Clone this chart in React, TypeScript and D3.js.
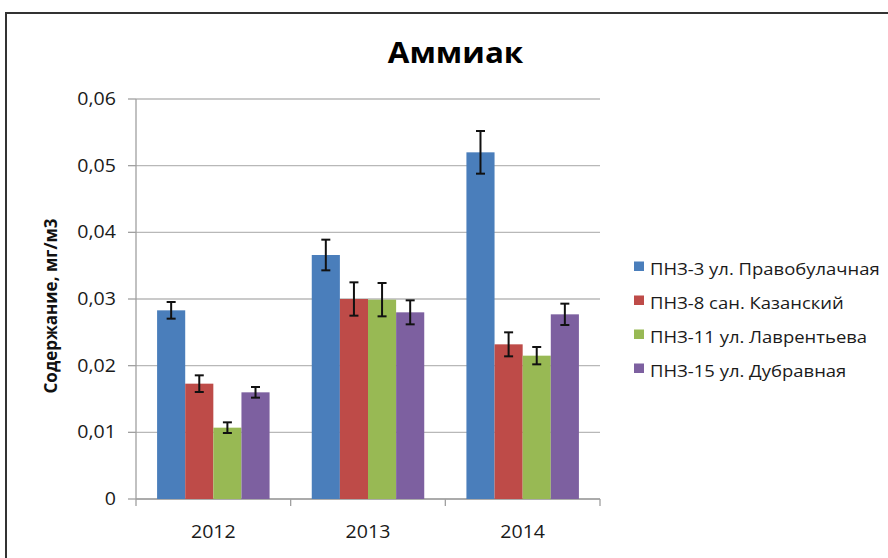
import React from "react";
import * as d3 from "d3";

const categories = ["2012", "2013", "2014"];
const seriesNames = [
  "ПНЗ-3 ул. Правобулачная",
  "ПНЗ-8 сан. Казанский",
  "ПНЗ-11 ул. Лаврентьева",
  "ПНЗ-15 ул. Дубравная",
];
const seriesColors = ["#4a7ebb", "#be4b48", "#98b954", "#7d60a0"];
// values per series, per year
const values = [
  [0.0283, 0.0366, 0.052],
  [0.0173, 0.03, 0.0232],
  [0.0107, 0.0299, 0.0215],
  [0.016, 0.028, 0.0277],
];
const errors = [
  [0.00125, 0.0023, 0.0032],
  [0.00125, 0.0025, 0.0018],
  [0.0008, 0.0025, 0.0013],
  [0.0008, 0.0018, 0.0016],
];
const yTicks = [0, 0.01, 0.02, 0.03, 0.04, 0.05, 0.06];
const title = "Аммиак";
const yTitle = "Содержание, мг/м3";

const W = 888;
const H = 558;
const font = "'Open Sans', 'Noto Sans', sans-serif";
const SX = 1.12;

function T(props: {
  x: number;
  y: number;
  size: number;
  anchor?: string;
  bold?: boolean;
  fill?: string;
  children: React.ReactNode;
}) {
  return (
    <text
      transform={`translate(${props.x},${props.y}) scale(${SX},1)`}
      textAnchor={props.anchor || "start"}
      fontFamily={font}
      fontWeight={props.bold ? "bold" : "normal"}
      fontSize={props.size}
      fill={props.fill || "#1a1a1a"}
    >
      {props.children}
    </text>
  );
}

export default function App() {
  const left = 136, right = 600, top = 99, bottom = 499;
  const x = d3.scaleBand<string>().domain(categories).range([left, right]);
  const bw = x.bandwidth() / 5.5;
  const pad = (x.bandwidth() - bw * 4) / 2;
  const y = d3.scaleLinear().domain([0, 0.06]).range([bottom, top]);
  const fmt = (v: number) => (v === 0 ? "0" : d3.format(".2f")(v).replace(".", ","));
  const boundaries = [left, ...categories.map((c) => (x(c) as number) + x.bandwidth())];
  return (
    <svg width={W} height={H} style={{ position: "absolute", left: 0, top: 0, background: "#fff" }}>
      <rect x={0} y={0} width={W} height={H} fill="#fff" />
      <rect x={6} y={13} width={W + 20} height={H + 20} fill="none" stroke="#333" strokeWidth={2} />
      <T x={455.5} y={63} size={28} anchor="middle" bold fill="#000">
        {title}
      </T>
      {yTicks.map((t) => (
        <g key={t}>
          <line x1={left} x2={right} y1={y(t)} y2={y(t)} stroke="#b8b8b8" strokeWidth={1.3} />
          <line x1={128} x2={left} y1={y(t)} y2={y(t)} stroke="#a0a0a0" strokeWidth={1.3} />
          <T x={116} y={y(t) + 6} size={17.5} anchor="end">
            {fmt(t)}
          </T>
        </g>
      ))}
      <line x1={left} x2={left} y1={top} y2={bottom} stroke="#a0a0a0" strokeWidth={1.3} />
      <line x1={left} x2={right} y1={bottom} y2={bottom} stroke="#a0a0a0" strokeWidth={1.3} />
      {boundaries.map((b, i) => (
        <line key={i} x1={b} x2={b} y1={bottom} y2={bottom + 7} stroke="#a0a0a0" strokeWidth={1.3} />
      ))}
      {categories.map((c) => (
        <T key={c} x={(x(c) as number) + x.bandwidth() / 2} y={538} size={17.5} anchor="middle">
          {c}
        </T>
      ))}
      {values.map((s, si) =>
        s.map((v, ci) => {
          const x0 = (x(categories[ci]) as number) + pad + si * bw;
          const cx = x0 + bw / 2;
          const e = errors[si][ci];
          return (
            <g key={si + "-" + ci}>
              <rect x={x0} y={y(v)} width={bw} height={bottom - y(v)} fill={seriesColors[si]} />
              <line x1={cx} x2={cx} y1={y(v + e)} y2={y(v - e)} stroke="#111" strokeWidth={2} />
              <line x1={cx - 4.5} x2={cx + 4.5} y1={y(v + e)} y2={y(v + e)} stroke="#111" strokeWidth={2} />
              <line x1={cx - 4.5} x2={cx + 4.5} y1={y(v - e)} y2={y(v - e)} stroke="#111" strokeWidth={2} />
            </g>
          );
        })
      )}
      <text
        transform={`translate(57, 306) rotate(-90)`}
        textAnchor="middle"
        fontFamily={font}
        fontWeight="bold"
        fontSize={17}
        fill="#111"
      >
        {yTitle}
      </text>
      {seriesNames.map((n, i) => (
        <g key={n}>
          <rect x={634} y={261.5 + i * 34} width={10} height={9.5} fill={seriesColors[i]} />
          <T x={650} y={275 + i * 34} size={16.5}>
            {n}
          </T>
        </g>
      ))}
    </svg>
  );
}
